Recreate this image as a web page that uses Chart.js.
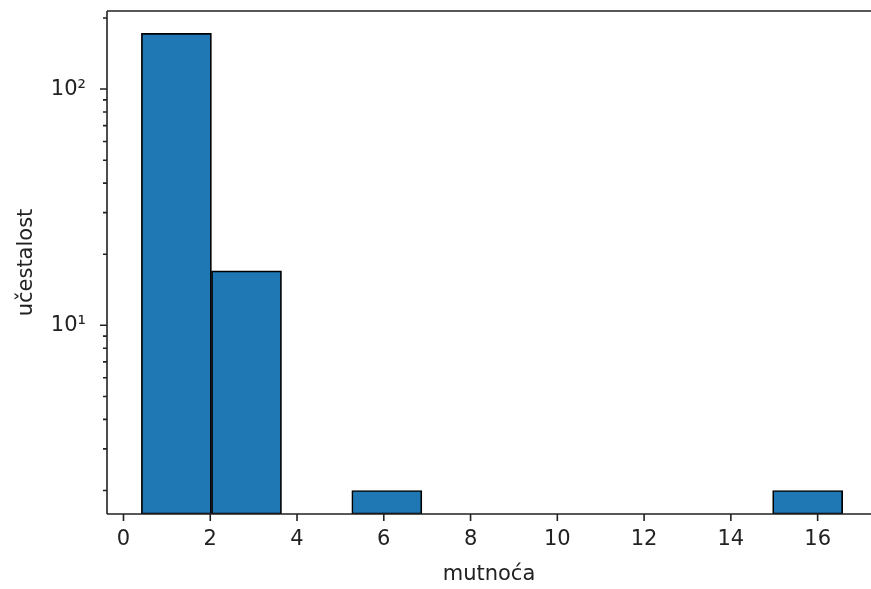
<!DOCTYPE html>
<html>
<head>
<meta charset="utf-8">
<script src="https://cdn.jsdelivr.net/npm/chart.js@4.4.0/dist/chart.umd.min.js"></script>
<style>
    html, body { margin: 0; padding: 0; background: #fff; overflow: hidden; }
    #wrap { width: 871px; height: 589px; }
</style>
</head>
<body>
<div id="wrap"><canvas id="chartjs-canvas"></canvas></div>
<script>
// histogram of turbidity (10 bins), log y
const binEdges = [0.41, 2.03, 3.64, 5.26, 6.88, 8.50, 10.11, 11.73, 13.35, 14.96, 16.58];
const binCounts = [172, 17, 0, 2, 0, 0, 0, 0, 0, 2];

const xTicks = [0, 2, 4, 6, 8, 10, 12, 14, 16];
const yMajorTicks = [10, 100];
const yMajorLabels = ['10\u00B9', '10\u00B2'];
const yMinorTicks = [2, 3, 4, 5, 6, 7, 8, 9, 20, 30, 40, 50, 60, 70, 80, 90, 200];

const points = binCounts.map((c, i) => ({
    x: (binEdges[i] + binEdges[i + 1]) / 2,
    y: c > 0 ? c : null
}));

const ink = '#222';
const font = { family: 'DejaVu Sans', size: 21 };

// matplotlib-style spines and tick marks
const axesLines = {
    id: 'axesLines',
    afterDraw(chart) {
        const { ctx, chartArea: a, scales: { x, y } } = chart;
        ctx.save();
        ctx.strokeStyle = ink;
        ctx.lineWidth = 1.6;
        ctx.beginPath();
        ctx.moveTo(a.left, a.top); ctx.lineTo(a.right, a.top);
        ctx.moveTo(a.left, a.top); ctx.lineTo(a.left, a.bottom);
        ctx.moveTo(a.left, a.bottom); ctx.lineTo(a.right, a.bottom);
        xTicks.forEach(v => {
            const px = x.getPixelForValue(v);
            ctx.moveTo(px, a.bottom); ctx.lineTo(px, a.bottom + 7);
        });
        yMajorTicks.forEach(v => {
            const py = y.getPixelForValue(v);
            ctx.moveTo(a.left, py); ctx.lineTo(a.left - 7, py);
        });
        yMinorTicks.forEach(v => {
            const py = y.getPixelForValue(v);
            ctx.moveTo(a.left, py); ctx.lineTo(a.left - 4, py);
        });
        ctx.stroke();
        ctx.restore();
    }
};

const ctx = document.getElementById('chartjs-canvas').getContext('2d');

new Chart(ctx, {
    type: 'bar',
    data: {
        datasets: [{
            data: points,
            backgroundColor: '#1f77b4',
            borderColor: '#000',
            borderWidth: 1.7,
            borderSkipped: false,
            categoryPercentage: 1.0,
            barPercentage: 1.0
        }]
    },
    options: {
        responsive: true,
        maintainAspectRatio: false,
        animation: false,
        layout: { padding: { top: 11, left: 0, right: 0, bottom: 0 } },
        plugins: {
            legend: { display: false },
            tooltip: { enabled: false }
        },
        scales: {
            x: {
                type: 'linear',
                min: -0.38,
                max: 17.23,
                bounds: 'data',
                offset: false,
                grid: { display: false, drawTicks: false },
                border: { display: false },
                afterBuildTicks: s => { s.ticks = xTicks.map(v => ({ value: v })); },
                afterFit: s => { s.height = 75; s.paddingLeft = 0; s.paddingRight = 0; },
                ticks: {
                    font: font,
                    color: ink,
                    padding: 13,
                    maxRotation: 0,
                    callback: v => String(v)
                },
                title: {
                    display: true,
                    text: 'mutnoća',
                    font: font,
                    color: ink,
                    padding: { top: 0, bottom: 2 }
                }
            },
            y: {
                type: 'logarithmic',
                min: 1.59,
                max: 214,
                bounds: 'data',
                grid: { display: false, drawTicks: false },
                border: { display: false },
                afterBuildTicks: s => { s.ticks = yMajorTicks.map(v => ({ value: v })); },
                afterFit: s => { s.width = 107; s.paddingTop = 0; s.paddingBottom = 0; },
                ticks: {
                    font: font,
                    color: ink,
                    padding: 21,
                    callback: v => yMajorLabels[yMajorTicks.indexOf(v)] || ''
                },
                title: {
                    display: true,
                    text: 'učestalost',
                    font: font,
                    color: ink,
                    padding: { top: 14, bottom: 0 }
                }
            }
        }
    },
    plugins: [axesLines]
});
</script>
</body>
</html>
